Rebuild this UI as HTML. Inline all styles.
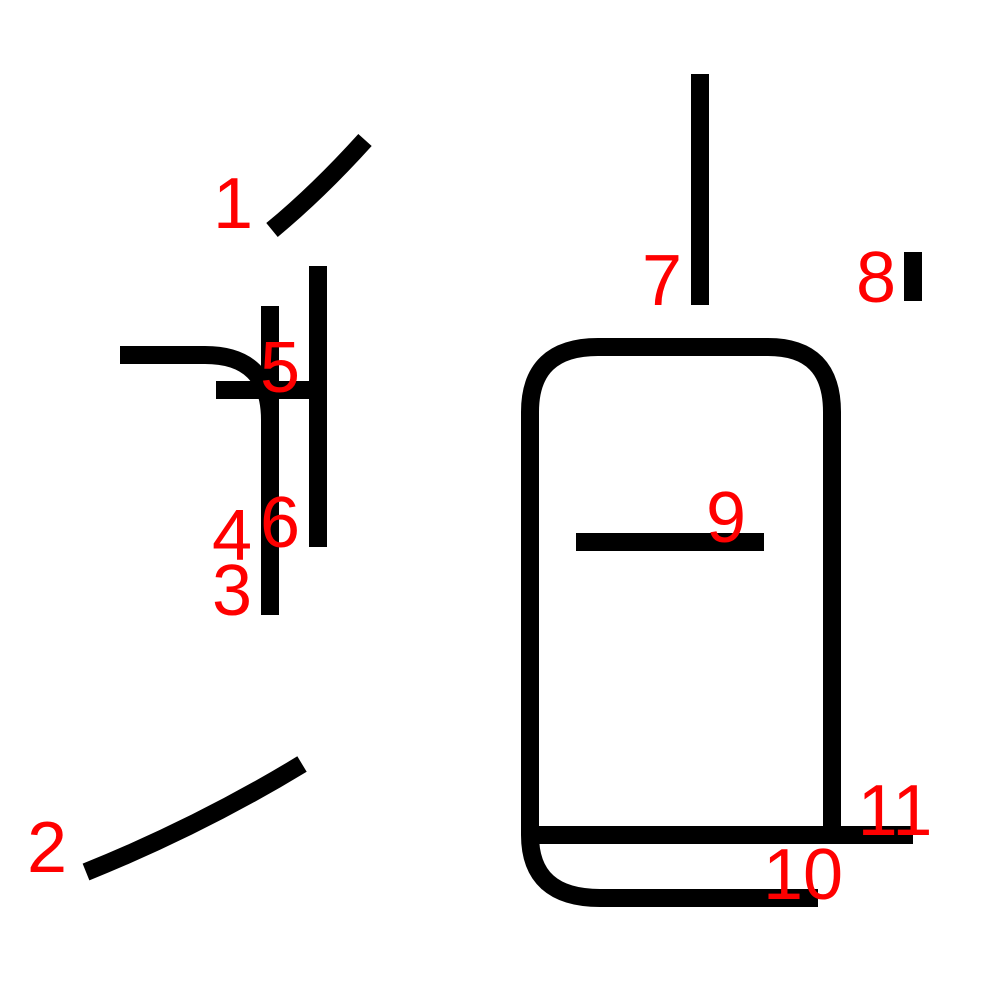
<!DOCTYPE html>
<html>
<head>
<meta charset="utf-8">
<style>
html,body{margin:0;padding:0;background:#fff;}
svg{display:block;}
text{font-family:"Liberation Sans",sans-serif;font-size:72px;fill:#ff0000;text-anchor:middle;}
path,line{stroke:#000;stroke-width:18;fill:none;}
</style>
</head>
<body>
<svg width="1000" height="1000" viewBox="0 0 1000 1000">
  <g>
    <path d="M272,230 Q318,192 365,140"/>
    <path d="M86,872 Q200,826 302,764"/>
    <line x1="270" y1="306" x2="270" y2="615"/>
    <path d="M120,355 H205 Q270,355 270,420 V615"/>
    <line x1="216" y1="390" x2="316" y2="390"/>
    <line x1="318" y1="266" x2="318" y2="547"/>
    <line x1="700" y1="74" x2="700" y2="305"/>
    <line x1="913" y1="252" x2="913" y2="301"/>
    <line x1="576" y1="542" x2="764" y2="542"/>
    <path d="M818,898 H600 Q530,898 530,835 V412 Q530,347 598,347 H768 Q832,347 832,412 V835"/>
    <line x1="530" y1="835" x2="913" y2="835"/>
  </g>
  <g>
    <text x="233" y="228">1</text>
    <text x="47" y="872">2</text>
    <text x="232" y="615">3</text>
    <text x="232" y="560">4</text>
    <text x="280" y="392">5</text>
    <text x="280" y="547">6</text>
    <text x="662" y="305">7</text>
    <text x="876" y="302">8</text>
    <text x="726" y="542">9</text>
    <text x="803" y="899">10</text>
    <text x="895" y="835">11</text>
  </g>
</svg>
</body>
</html>
